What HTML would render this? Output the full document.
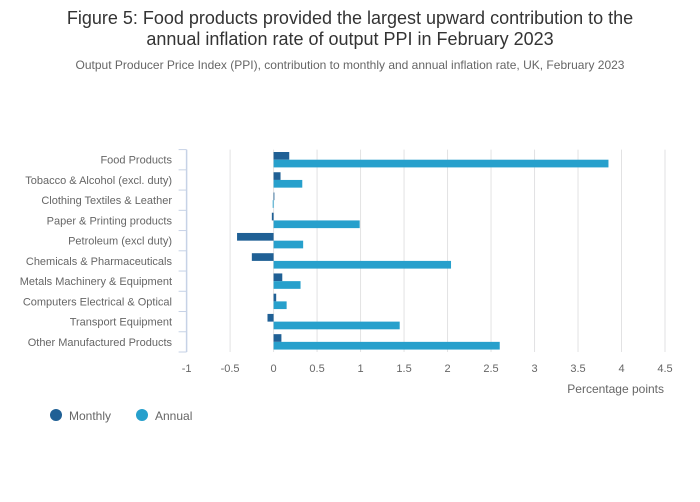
<!DOCTYPE html>
<html><head><meta charset="utf-8"><style>
body{margin:0;background:#fff;font-family:"Liberation Sans",sans-serif;}
#c{position:relative;width:700px;height:502px;overflow:hidden}
</style></head><body>
<div id="c">
<svg width="700" height="502" id="svg">
<text x="350" y="24" text-anchor="middle" font-size="18" fill="#333">Figure 5: Food products provided the largest upward contribution to the</text>
<text x="350" y="45" text-anchor="middle" font-size="18" fill="#333">annual inflation rate of output PPI in February 2023</text>
<text x="350" y="69" text-anchor="middle" font-size="12" fill="#666">Output Producer Price Index (PPI), contribution to monthly and annual inflation rate, UK, February 2023</text>
<g id="grid"></g><g id="bars"></g><g id="axes"></g>
<text x="664" y="393" text-anchor="end" font-size="12" fill="#666">Percentage points</text>
<circle cx="56" cy="415" r="6" fill="#206095"/>
<text x="69" y="420" font-size="12" fill="#666">Monthly</text>
<circle cx="142" cy="415" r="6" fill="#27a0cc"/>
<text x="155" y="420" font-size="12" fill="#666">Annual</text>
</svg></div>
<script>
const categories=["Food Products","Tobacco & Alcohol (excl. duty)","Clothing Textiles & Leather","Paper & Printing products","Petroleum (excl duty)","Chemicals & Pharmaceuticals","Metals Machinery & Equipment","Computers Electrical & Optical","Transport Equipment","Other Manufactured Products"];
const monthly=[0.18,0.08,0.0,-0.02,-0.42,-0.25,0.1,0.03,-0.07,0.09];
const annual=[3.85,0.33,-0.01,0.99,0.34,2.04,0.31,0.15,1.45,2.6];
const ticks=[-1,-0.5,0,0.5,1,1.5,2,2.5,3,3.5,4,4.5];
const NS="http://www.w3.org/2000/svg";
const x0=186.6,x1=665,vmin=-1,vmax=4.5,yTop=149.6,yBot=352;
const band=(yBot-yTop)/categories.length;
function X(v){return x0+(v-vmin)/(vmax-vmin)*(x1-x0);}
function mk(t,a,p){const e=document.createElementNS(NS,t);for(const k in a)e.setAttribute(k,a[k]);p.appendChild(e);return e;}
const grid=document.getElementById('grid'),bars=document.getElementById('bars'),axes=document.getElementById('axes');
ticks.forEach(t=>{
 if(t!==vmin){const l=mk('line',{x1:X(t),x2:X(t),y1:yTop,y2:yBot,stroke:'#e2e2e3','stroke-width':1},grid);
 
 }
 const tx=mk('text',{x:X(t),y:372,'text-anchor':'middle','font-size':11,fill:'#666'},axes);
 tx.textContent=t;
 
 
});
const ax=mk('line',{x1:x0,x2:x0,y1:yTop,y2:yBot,stroke:'#c6d2e6','stroke-width':1.5},axes);


for(let i=0;i<=categories.length;i++){
 const tk=mk('line',{x1:x0-8,x2:x0,y1:yTop+i*band,y2:yTop+i*band,stroke:'#c6d2e6','stroke-width':1},axes);
 
 
}
categories.forEach((c,i)=>{
 const y=yTop+i*band;
 const t=mk('text',{x:172,y:y+band/2+4,'text-anchor':'end','font-size':11,fill:'#666'},axes);
 t.textContent=c;
 
 
 const m=monthly[i],a=annual[i];
 const b1=mk('rect',{x:Math.min(X(0),X(m)),y:y+2.4,width:Math.max(Math.abs(X(m)-X(0)),0.8),height:7.7,fill:'#206095'},bars);
 
 
 const b2=mk('rect',{x:Math.min(X(0),X(a)),y:y+10.1,width:Math.max(Math.abs(X(a)-X(0)),0.8),height:7.7,fill:'#27a0cc'},bars);
 
 
});
</script>
</body></html>
